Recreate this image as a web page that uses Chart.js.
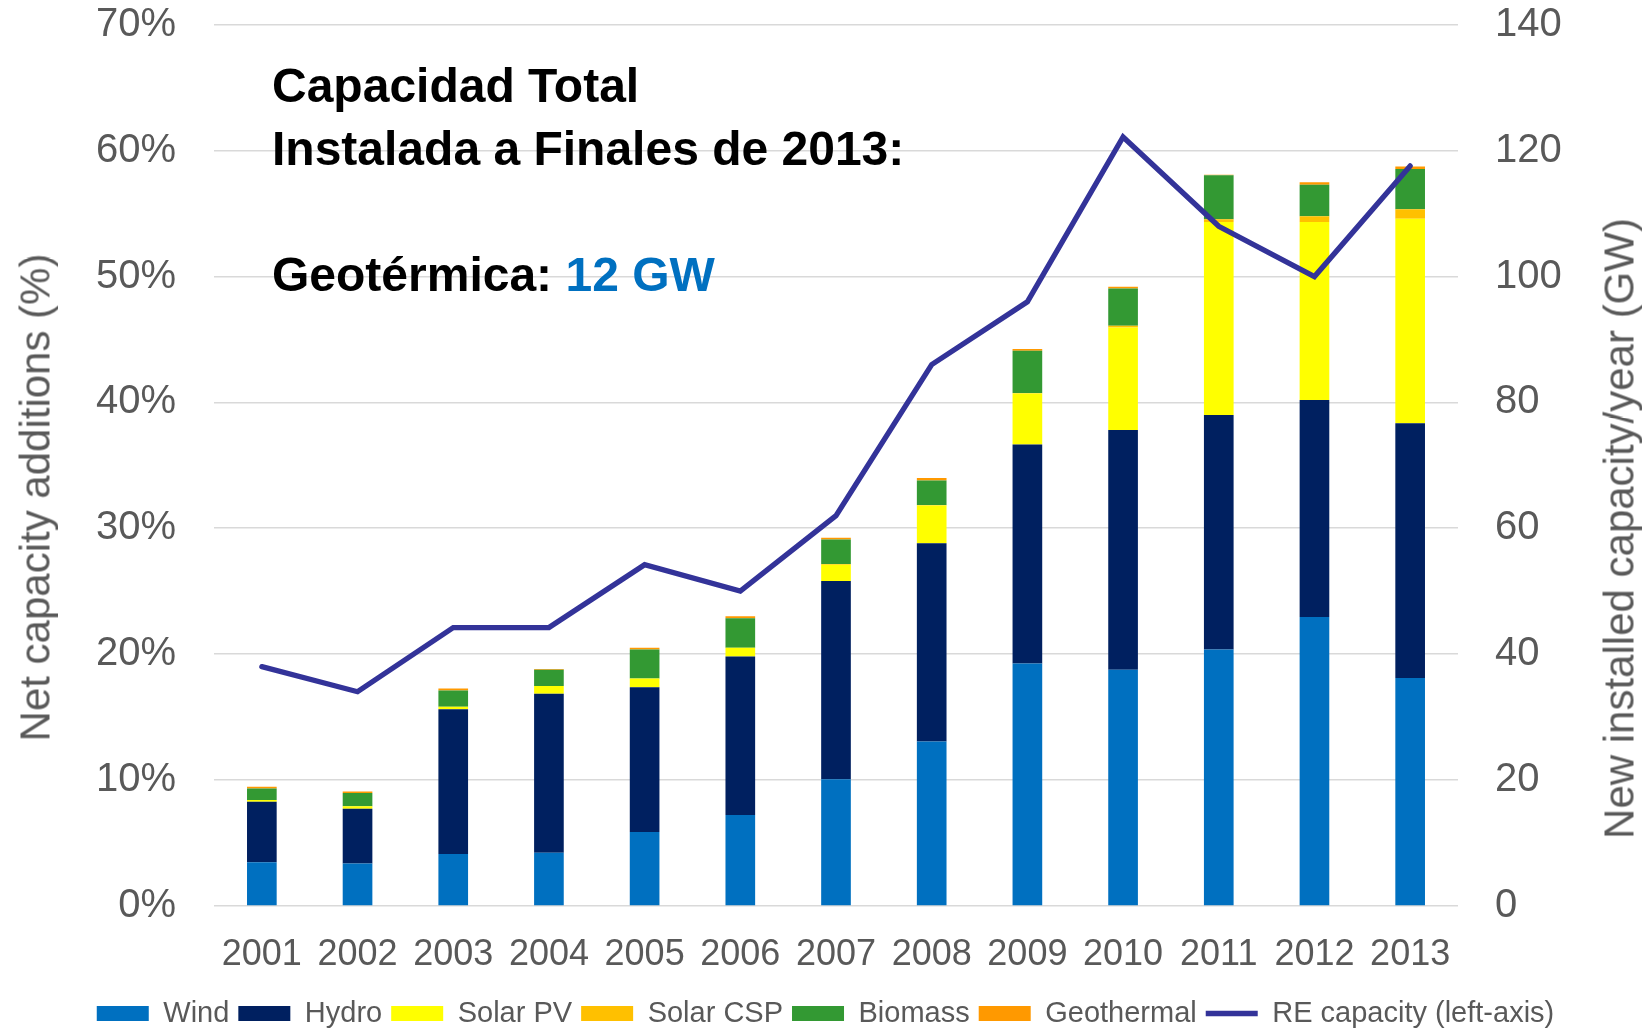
<!DOCTYPE html>
<html>
<head>
<meta charset="utf-8">
<script src="https://cdn.jsdelivr.net/npm/chart.js@4.4.1/dist/chart.umd.min.js"></script>
<style>
html,body{margin:0;padding:0;background:#fff;}
#wrap{position:relative;width:1651px;height:1030px;font-family:"Liberation Sans",Arial,sans-serif;overflow:hidden;}
#c{position:absolute;left:0;top:0;}
.note{position:absolute;left:272px;top:54px;font-weight:bold;font-size:48px;line-height:63px;color:#000;white-space:nowrap;}
.note .blue{color:#0070C0;}
.atitle{position:absolute;width:800px;height:47px;text-align:center;font-size:42px;line-height:47px;color:#595959;white-space:nowrap;transform:rotate(-90deg);}
</style>
</head>
<body>
<div id="wrap">
  <canvas id="c" width="1651" height="1030"></canvas>
  <div class="note">Capacidad Total<br>Instalada a Finales de 2013:<br><br>Geotérmica: <span class="blue">12 GW</span></div>
  <div class="atitle" style="left:-365px;top:474px;">Net capacity additions (%)</div>
  <div class="atitle" style="left:1219px;top:505px;">New installed capacity/year (GW)</div>
</div>
<script>
const years = ["2001","2002","2003","2004","2005","2006","2007","2008","2009","2010","2011","2012","2013"];
const wind = [6.9, 6.7, 8.2, 8.4, 11.7, 14.4, 20.1, 26.1, 38.5, 37.5, 40.7, 45.9, 36.2];
const hydro = [9.6, 8.7, 23.0, 25.3, 23.0, 25.2, 31.5, 31.5, 34.8, 38.1, 37.3, 34.5, 40.5];
const solarPV = [0.3, 0.4, 0.4, 1.2, 1.4, 1.4, 2.6, 6.0, 8.1, 16.3, 30.7, 28.3, 32.5];
const solarCSP = [0, 0, 0, 0, 0, 0, 0.1, 0.1, 0.1, 0.3, 0.4, 0.9, 1.5];
const biomass = [1.8, 2.1, 2.6, 2.6, 4.6, 4.7, 3.9, 3.9, 6.7, 5.9, 7.0, 5.0, 6.4];
const geothermal = [0.3, 0.25, 0.3, 0.1, 0.3, 0.3, 0.3, 0.4, 0.3, 0.3, 0.1, 0.4, 0.4];
const reShare = [19.0, 17.0, 22.1, 22.1, 27.1, 25.0, 31.0, 43.0, 48.0, 61.1, 54.0, 50.0, 58.8];
const leftTicks = [0, 10, 20, 30, 40, 50, 60, 70];
const rightTicks = [0, 20, 40, 60, 80, 100, 120, 140];

Chart.defaults.font.family = "'Liberation Sans', Arial, sans-serif";
Chart.defaults.color = "#595959";

function bar(label, data, color) {
  return {type: 'bar', label, data, backgroundColor: color, borderWidth: 0,
    yAxisID: 'y2', stack: 'cap', order: 1, pointStyle: 'rect',
    barPercentage: 0.31, categoryPercentage: 1.0};
}

const chart = new Chart(document.getElementById('c'), {
  data: {
    labels: years,
    datasets: [
      bar('Wind', wind, '#0070C0'),
      bar('Hydro', hydro, '#002060'),
      bar('Solar PV', solarPV, '#FFFF00'),
      bar('Solar CSP', solarCSP, '#FFC000'),
      bar('Biomass', biomass, '#339933'),
      bar('Geothermal', geothermal, '#FF9900'),
      {type: 'line', label: 'RE capacity (left-axis)', data: reShare, yAxisID: 'y1',
        borderColor: '#333399', backgroundColor: '#333399', borderWidth: 5.3,
        pointRadius: 0, tension: 0, order: 0, pointStyle: 'line', borderCapStyle: 'round', borderJoinStyle: 'miter'}
    ]
  },
  options: {
    responsive: false,
    animation: false,
    layout: {padding: {left: 0, right: 0, top: 0, bottom: -8}},
    plugins: {
      legend: {
        position: 'bottom',
        labels: {
          usePointStyle: true,
          pointStyleWidth: 52,
          boxHeight: 15,
          padding: 9,
          font: {size: 29},
          color: '#595959',
          sort: (a, b) => a.datasetIndex - b.datasetIndex
        }
      },
      tooltip: {enabled: false}
    },
    scales: {
      x: {
        stacked: true,
        offset: true,
        grid: {display: false, drawTicks: false},
        border: {display: false},
        ticks: {font: {size: 36}, color: '#595959', padding: 28, maxRotation: 0},
        afterFit(s) { s.height = 84.4; s.paddingLeft = 0; s.paddingRight = 0; }
      },
      y1: {
        position: 'left',
        min: 0, max: 70,
        afterBuildTicks(s) { s.ticks = leftTicks.map(v => ({value: v})); },
        ticks: {font: {size: 40}, color: '#595959', padding: 38, callback: v => v + '%'},
        grid: {color: '#d9d9d9', lineWidth: 1.5, drawTicks: false},
        border: {display: false},
        afterFit(s) { s.width = 214; s.paddingTop = 25; s.paddingBottom = 0; }
      },
      y2: {
        position: 'right',
        stacked: true,
        min: 0, max: 140,
        afterBuildTicks(s) { s.ticks = rightTicks.map(v => ({value: v})); },
        ticks: {font: {size: 40}, color: '#595959', padding: 37},
        grid: {display: false, drawTicks: false},
        border: {display: false},
        afterFit(s) { s.width = 193; s.paddingTop = 25; s.paddingBottom = 0; }
      }
    }
  }
});
</script>
</body>
</html>
